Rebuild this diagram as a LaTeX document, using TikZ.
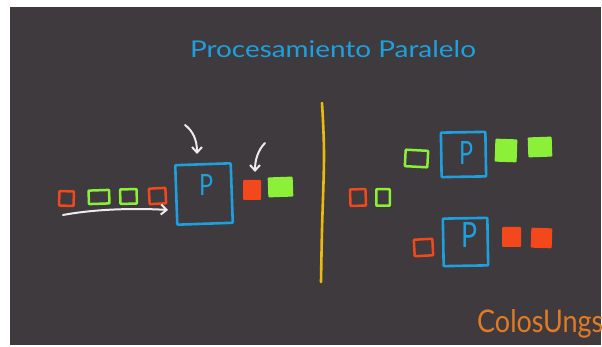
\documentclass[tikz,border=0pt]{standalone}
\usepackage{fontspec}
\setmainfont{Lato}
\usetikzlibrary{arrows.meta}
\definecolor{bg}{RGB}{62,58,62}
\definecolor{pblue}{RGB}{30,160,222}
\definecolor{pred}{RGB}{242,72,28}
\definecolor{pgreen}{RGB}{140,240,56}
\definecolor{pyellow}{RGB}{236,186,12}
\definecolor{porange}{RGB}{226,122,36}
\definecolor{pwhite}{RGB}{236,236,236}
\begin{document}
\begin{tikzpicture}[x=1pt,y=-1pt,
  obox/.style={draw, line width=2.5pt, inner sep=0pt, line join=round, rounded corners=0.6pt},
  fbox/.style={fill, inner sep=0pt, rounded corners=1pt},
  proc/.style={draw=pblue, line width=2.6pt, inner sep=0pt, line join=round, rounded corners=0.8pt},
  pletter/.style={text=pblue, inner sep=0pt, anchor=base},
  hand/.style={draw=pwhite, line width=2pt, line cap=round,
    -{Straight Barb[length=5.5pt,width=10pt,line width=2pt]}},
  sep/.style={draw=pyellow, line width=2.6pt, line cap=round}]
\useasboundingbox (0,0) rectangle (602,347);
\fill[white] (0,0) rectangle (602,347);
\fill[bg] (10,7) rectangle (601,345);

% title
\node[text=pblue, anchor=base, inner sep=0pt] (title) at (333,58)
  {\resizebox{286pt}{17pt}{Procesamiento Paralelo}};

% ---------- left: sequential ----------
\node[obox, draw=pred,   minimum width=14.5pt, minimum height=14.5pt, rotate=-2] (q1) at (66.5,198.5) {};
\node[obox, draw=pgreen, minimum width=20.5pt, minimum height=13.5pt, rotate=2]  (q2) at (99,197) {};
\node[obox, draw=pgreen, minimum width=16.5pt, minimum height=14.5pt, rotate=1]  (q3) at (128.5,196.5) {};
\node[obox, draw=pred,   minimum width=16.5pt, minimum height=15.5pt, rotate=3]  (q4) at (157.5,196) {};
\node[proc, minimum width=55.5pt, minimum height=59.5pt, rotate=2] (P0) at (204,194) {};
\node[pletter] (p0) at (206,196) {\resizebox{14pt}{21pt}{P}};
\node[fbox, fill=pred,   minimum width=18pt, minimum height=20pt] (o1) at (252,190) {};
\node[fbox, fill=pgreen, minimum width=25pt, minimum height=20pt, rotate=2] (o2) at (280.5,187) {};

\coordinate (a1s) at (185,125);
\coordinate (a1e) at (197,154);
\draw[hand] (a1s) .. controls (193,131) and (197,140) .. (a1e);
\coordinate (a2s) at (265,143);
\coordinate (a2e) at (255,172);
\draw[hand] (a2s) .. controls (258,150) and (255,160) .. (a2e);
\coordinate (a3s) at (63,215);
\coordinate (a3e) at (168,210);
\draw[hand] (a3s) .. controls (95,209) and (135,208) .. (a3e);

% separator
\coordinate (s1) at (322,103);
\coordinate (s2) at (324,155);
\coordinate (s3) at (322,230);
\coordinate (s4) at (321,282);
\draw[sep] plot[smooth, tension=0.6] coordinates {(s1) (s2) (s3) (s4)};

% ---------- right: parallel ----------
\node[obox, draw=pred,   minimum width=15.5pt, minimum height=16.5pt, rotate=2] (r1) at (358,197.5) {};
\node[obox, draw=pgreen, minimum width=13.5pt, minimum height=16.5pt] (r2) at (383,197.5) {};

\node[obox, draw=pgreen, minimum width=22.5pt, minimum height=16.5pt, rotate=-3] (t1) at (416.5,158.5) {};
\node[proc, minimum width=44.5pt, minimum height=44.5pt, rotate=1] (P1) at (463.5,154.5) {};
\node[pletter] (p1) at (466,165) {\resizebox{14pt}{23pt}{P}};
\node[fbox, fill=pgreen, minimum width=22pt, minimum height=23pt, rotate=-2] (t2) at (506,150.5) {};
\node[fbox, fill=pgreen, minimum width=24pt, minimum height=20pt, rotate=2] (t3) at (540,147) {};

\node[obox, draw=pred, minimum width=18.5pt, minimum height=16.5pt, rotate=3] (b1) at (423.5,247.5) {};
\node[proc, minimum width=44.5pt, minimum height=47.5pt, rotate=1] (P2) at (465.5,242) {};
\node[pletter] (p2) at (469,248) {\resizebox{16pt}{25pt}{P}};
\node[fbox, fill=pred, minimum width=19pt, minimum height=20pt] (b2) at (511.5,237) {};
\node[fbox, fill=pred, minimum width=21pt, minimum height=20pt, rotate=-2] (b3) at (541.5,238) {};

% signature
\node[text=porange, anchor=base west, inner sep=0pt] (sig) at (477,332)
  {\resizebox{126pt}{23pt}{ColosUngs}};
\end{tikzpicture}
\end{document}
